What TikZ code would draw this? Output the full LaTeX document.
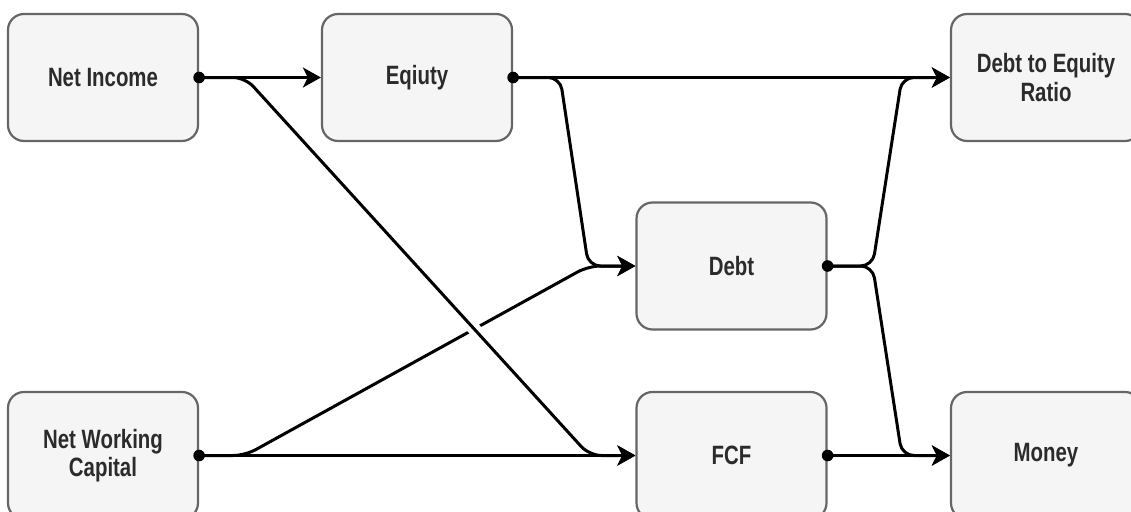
\documentclass[tikz,border=0pt]{standalone}
\usepackage{fontspec}
\newfontfamily\labelfont{Liberation Sans}[FakeStretch=0.77]
\usetikzlibrary{arrows.meta,calc}

\definecolor{boxfill}{HTML}{F5F5F5}
\definecolor{boxline}{HTML}{666666}
\definecolor{boxtext}{HTML}{2B2B2B}

\tikzset{
  stagebox/.style={draw=boxline, fill=boxfill, line width=2.2pt,
    rounded corners=16pt, minimum width=190pt, minimum height=127pt,
    inner sep=0pt, align=center, text=boxtext,
    font=\labelfont\bfseries\fontsize{26.5}{28.5}\selectfont},
  link/.style={draw=black, line width=3pt, rounded corners=12pt,
    -{Stealth[length=18pt,width=20pt,inset=5pt]}},
  linkdot/.style={fill=black},
  jumpgap/.style={draw=white, line width=13pt}
}

\begin{document}
\begin{tikzpicture}[x=1pt, y=-1pt]
  \useasboundingbox (0,0) rectangle (1131,511);
  \clip (0,0) rectangle (1131,511);

  % stages
  \node[stagebox] (ni)    at (103,77.5)    {Net Income};
  \node[stagebox] (eq)    at (417,77.5)    {Eqiuty};
  \node[stagebox] (der)   at (1046,77.5)   {Debt to Equity\\Ratio};
  \node[stagebox] (debt)  at (731.5,266)   {Debt};
  \node[stagebox] (nwc)   at (103,455.5)   {Net Working\\Capital};
  \node[stagebox] (fcf)   at (731.5,455.5) {FCF};
  \node[stagebox] (money) at (1046,455.5)  {Money};

  % bend points of the slanted links
  \coordinate (nib)   at ($(ni.east)+(46,0)$);
  \coordinate (fcfb)  at ($(fcf.west)+(-46,0)$);
  \coordinate (eqb)   at ($(eq.east)+(47,0)$);
  \coordinate (debtb) at ($(debt.west)+(-47,0)$);
  \coordinate (nwcb)  at ($(nwc.east)+(46,0)$);
  \coordinate (debto) at ($(debt.east)+(45,0)$);
  \coordinate (derb)  at ($(der.west)+(-48,0)$);
  \coordinate (monb)  at ($(money.west)+(-48,0)$);

  % links
  \draw[link] (ni.east) -- (eq.west);
  \draw[link] (eq.east) -- (der.west);
  \draw[link] (eq.east) -- (eqb) -- (debtb) -- (debt.west);
  \draw[link] (nwc.east) -- (nwcb) -- (debtb) -- (debt.west);
  \draw[jumpgap] ($(nib)!0.63!(fcfb)$) -- ($(nib)!0.70!(fcfb)$);
  \draw[link] (ni.east) -- (nib) -- (fcfb) -- (fcf.west);
  \draw[link] (nwc.east) -- (fcf.west);
  \draw[link] (debt.east) -- (debto) -- (derb) -- (der.west);
  \draw[link] (debt.east) -- (debto) -- (monb) -- (money.west);
  \draw[link] (fcf.east) -- (money.west);

  % source dots
  \foreach \src in {ni.east, eq.east, nwc.east, debt.east, fcf.east}
    \fill[linkdot] (\src) circle[radius=5.8pt];
\end{tikzpicture}
\end{document}
